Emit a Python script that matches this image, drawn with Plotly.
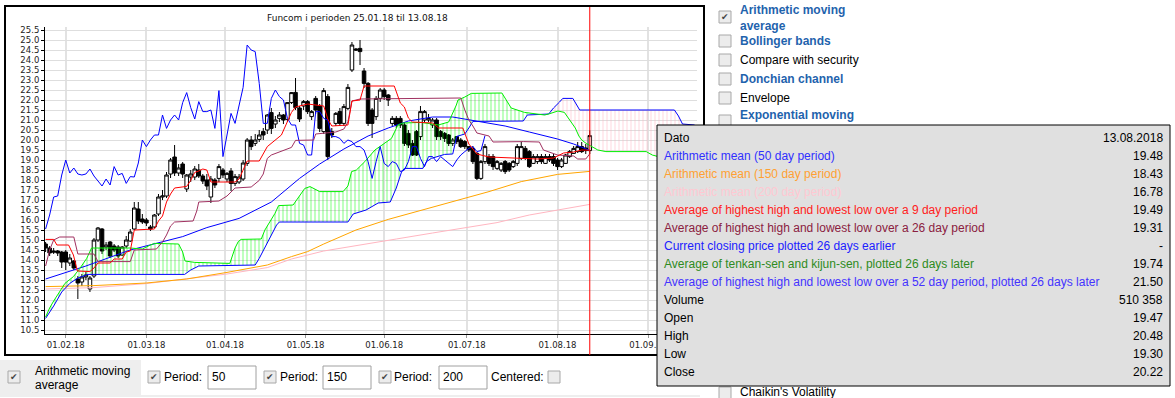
import pandas as pd
import plotly.graph_objects as go

# ---------------- data ----------------
HOLIDAYS = ["2018-03-29", "2018-03-30", "2018-04-02", "2018-05-01",
            "2018-05-10", "2018-05-17", "2018-05-21"]
trade_dates = [d for d in pd.bdate_range("2018-01-25", "2018-08-13")
               if d.strftime("%Y-%m-%d") not in HOLIDAYS]
future_dates = list(pd.bdate_range("2018-08-14", periods=26))
all_dates = trade_dates + future_dates
day = list(range(len(trade_dates)))

open_ = [14.8, 14.6, 14.45, 14.45, 14.4, 14.4, 13.85, 13.95, 13.05, 12.9,
         13.15, 12.55, 13.2, 15.0, 15.55, 14.65, 14.9, 14.7, 14.65, 14.25,
         14.7, 14.95, 15.55, 16.55, 16.05, 16.0, 15.65, 15.65, 16.3, 17.15,
         17.2, 18.3, 19.15, 18.35, 18.8, 17.55, 18.15, 18.15, 18.5, 18.2,
         18.0, 17.15, 18.0, 18.08, 18.5, 18.05, 18.45, 17.83, 17.9, 18.05,
         18.83, 20.0, 19.83, 20.03, 20.42, 20.5, 21.37, 20.8, 21.08, 21.25,
         21.03, 21.87, 22.38, 21.6, 21.7, 21.92, 21.17, 22.08, 21.7, 20.42,
         22.17, 20.42, 20.83, 21.42, 20.83, 21.58, 23.5, 24.55, 24.58, 23.45,
         22.83, 21.5, 21.17, 22.08, 22.5, 22.25, 20.83, 21.08, 21.08, 20.75,
         20.33, 19.83, 20.42, 20.17, 21.0, 21.0, 20.75, 21.0, 20.42, 20.33,
         20.25, 19.83, 20.17, 20.0, 19.92, 19.67, 19.58, 19.33, 18.08, 18.92,
         19.17, 19.17, 18.58, 18.5, 18.92, 18.83, 18.67, 18.83, 19.08, 19.58,
         19.42, 18.83, 18.92, 19.17, 18.83, 19.17, 19.17, 19.0, 18.67, 18.83,
         19.17, 19.33, 19.42, 19.67, 19.6, 19.47]
high = [14.9, 14.7, 14.6, 14.5, 14.45, 14.5, 14.3, 14.0, 13.2, 13.3,
        13.4, 13.2, 15.1, 15.65, 15.6, 14.9, 14.95, 14.8, 14.75, 14.7,
        15.2, 15.55, 16.9, 16.9, 16.3, 16.1, 15.75, 16.3, 17.3, 17.5,
        18.4, 19.1, 19.75, 18.8, 18.9, 18.3, 18.5, 18.7, 18.8, 18.3,
        18.3, 18.2, 18.1, 18.8, 18.6, 18.4, 18.6, 18.3, 18.3, 19.0,
        20.1, 20.2, 20.3, 20.5, 20.6, 21.3, 21.6, 21.2, 21.4, 21.3,
        21.9, 22.4, 23.1, 21.7, 22.0, 22.0, 21.5, 22.2, 21.8, 22.6,
        22.3, 20.6, 21.4, 21.6, 21.8, 22.8, 24.9, 24.6, 25.0, 23.6,
        22.9, 21.6, 22.2, 22.6, 22.6, 22.3, 21.2, 21.2, 21.2, 20.9,
        20.5, 20.0, 20.5, 21.7, 21.5, 21.3, 21.1, 21.1, 20.5, 20.4,
        20.3, 20.1, 20.2, 20.1, 20.0, 19.7, 19.7, 19.4, 19.0, 19.8,
        19.3, 19.3, 19.0, 18.9, 19.0, 18.9, 19.0, 19.8, 19.9, 19.7,
        19.5, 19.3, 19.3, 19.3, 19.3, 19.3, 19.3, 19.1, 19.1, 19.3,
        19.5, 19.7, 19.9, 19.9, 19.8, 20.48]
low = [14.4, 14.2, 14.3, 14.2, 13.6, 13.5, 13.7, 13.5, 12.05, 12.7,
       13.0, 12.4, 13.1, 14.9, 14.3, 14.5, 14.1, 14.4, 14.1, 14.2,
       14.6, 14.9, 15.5, 15.8, 15.8, 15.7, 15.45, 15.6, 16.2, 17.0,
       17.1, 18.1, 18.2, 18.2, 18.1, 17.4, 17.9, 18.0, 18.1, 17.8,
       17.5, 16.85, 17.6, 17.9, 18.1, 17.9, 17.45, 17.7, 17.8, 17.95,
       18.7, 19.5, 19.7, 19.9, 20.0, 20.3, 20.3, 20.6, 20.9, 20.8,
       20.9, 21.8, 21.5, 20.9, 21.5, 21.3, 21.0, 21.3, 20.4, 20.3,
       19.0, 20.1, 20.7, 20.7, 20.7, 21.5, 23.4, 24.45, 23.75, 22.6,
       20.7, 20.1, 21.0, 21.9, 22.0, 21.7, 20.7, 20.6, 20.6, 19.7,
       19.6, 19.2, 19.2, 20.0, 20.9, 20.9, 20.6, 20.0, 20.0, 19.9,
       19.7, 19.7, 19.8, 19.6, 19.55, 19.4, 18.8, 18.0, 18.0, 18.8,
       18.7, 18.5, 18.5, 18.4, 18.3, 18.4, 18.6, 18.7, 19.0, 19.0,
       18.6, 18.8, 18.8, 18.8, 18.8, 18.9, 18.7, 18.5, 18.6, 18.8,
       19.1, 19.3, 19.35, 19.35, 19.3, 19.30]
close = [14.6, 14.35, 14.4, 14.35, 13.9, 13.9, 14.1, 13.6, 12.85, 13.15,
         13.25, 13.1, 15.0, 15.6, 14.45, 14.75, 14.2, 14.5, 14.2, 14.65,
         15.0, 15.4, 16.6, 15.95, 15.9, 15.85, 15.55, 16.25, 17.15, 17.2,
         18.25, 19.0, 18.35, 18.6, 18.3, 18.25, 18.3, 18.55, 18.2, 17.95,
         17.7, 18.05, 17.75, 18.67, 18.25, 18.33, 17.83, 18.17, 18.15, 18.85,
         20.0, 19.67, 20.0, 20.25, 20.25, 21.25, 20.58, 21.0, 21.25, 21.0,
         21.87, 22.37, 21.62, 21.05, 21.92, 21.42, 21.42, 21.5, 20.58, 22.47,
         19.17, 20.25, 21.33, 20.83, 21.67, 22.63, 24.75, 24.5, 24.42, 22.83,
         20.83, 20.83, 22.08, 22.5, 22.17, 22.0, 21.08, 20.75, 20.75, 19.83,
         19.75, 19.25, 19.25, 21.42, 21.42, 21.08, 21.0, 20.17, 20.17, 20.08,
         19.83, 20.0, 19.92, 19.67, 19.67, 19.5, 18.92, 18.08, 18.92, 19.67,
         18.83, 18.67, 18.92, 18.83, 18.42, 18.5, 18.92, 19.67, 19.67, 19.08,
         18.67, 19.17, 19.17, 18.92, 19.17, 19.0, 18.83, 18.67, 19.0, 19.25,
         19.42, 19.58, 19.67, 19.42, 19.47, 20.22]

# indicator lines: (trading day, value)
ma50 = [(0, 13.05), (10, 13.7), (21, 14.5), (29, 14.92), (34, 15.17), (40, 15.62),
        (48, 16.08), (56, 16.9), (60, 17.55), (63, 18.08), (68, 18.8), (74, 19.55),
        (80, 20.2), (85, 20.6), (90, 20.95), (96, 21.15), (101, 21.15), (107, 20.95),
        (114, 20.7), (120, 20.4), (127, 20.05), (131, 19.8), (135, 19.48)]
ma150 = [(0, 12.67), (12, 12.72), (25, 12.85), (35, 13.05), (45, 13.38), (55, 13.75),
         (61, 14.17), (65, 14.42), (69, 14.8), (77, 15.5), (85, 16.03), (88, 16.2),
         (94, 16.53), (104, 17.08), (110, 17.42), (118, 17.92), (127, 18.28), (135, 18.43)]
ma200 = [(0, 12.55), (12, 12.62), (25, 12.82), (35, 13.05), (45, 13.3), (55, 13.62),
         (61, 14.05), (69, 14.45), (79, 14.8), (87, 15.05), (96, 15.35), (104, 15.6),
         (112, 15.87), (120, 16.25), (127, 16.5), (135, 16.78)]
tenkan = [(0, 15.03), (2, 15.03), (2.8, 14.75), (5.7, 14.75), (6.9, 14.25), (7.9, 13.45),
          (11, 13.42), (12, 13.6), (13, 13.85), (16, 13.85), (17, 14.05), (19, 14.05),
          (20, 14.4), (21, 14.45), (22, 15.5), (27, 15.55), (28, 15.95), (29, 16.2),
          (30, 16.9), (31, 17.3), (32, 17.6), (35, 17.68), (36, 17.98), (37, 18.38),
          (38, 18.45), (39, 18.55), (40, 18.5), (41, 17.9), (47, 17.9), (48, 18.05),
          (50, 18.95), (53, 18.95), (55, 19.67), (58.5, 20.25), (61, 21.38), (62, 21.65),
          (65, 21.8), (69, 21.7), (70, 21.05), (71, 20.7), (75, 20.75), (76, 21.95),
          (78, 22.0), (79, 22.7), (86.5, 22.7), (88, 21.85), (89, 21.65), (90, 21.1),
          (91, 20.9), (96, 20.85), (97.5, 20.6), (103.5, 20.6), (105, 19.8), (107, 19.3),
          (110, 19.15), (118, 19.1), (122, 19.05), (126, 19.1), (128.5, 19.35),
          (131, 19.4), (133, 19.5), (135, 19.49)]
kijun = [(0, 13.7), (1, 14.5), (2, 15.0), (3.5, 15.15), (7, 15.15), (8, 14.3), (12, 14.3),
         (13, 13.92), (21, 13.92), (22, 14.5), (27.5, 14.55), (29, 14.9), (30, 15.25),
         (31, 15.7), (32, 15.9), (36.6, 15.95), (37.5, 16.45), (38, 16.9), (43, 16.95),
         (45, 17.2), (47, 17.6), (51, 17.65), (53, 17.98), (54, 18.3), (55, 19.08),
         (56, 19.25), (61, 19.63), (62, 19.98), (66.5, 20.0), (67, 20.3), (72, 20.4),
         (74, 20.55), (75, 20.9), (76, 21.95), (78, 22.05), (103, 22.1), (104, 21.5),
         (105, 21.0), (106, 20.7), (107, 20.35), (110, 20.2), (111, 19.9), (118.5, 19.92),
         (122.5, 19.9), (123.5, 19.5), (127, 19.25), (131, 19.2), (132, 19.05),
         (134, 19.05), (135, 19.31)]
senkou_a = [(0, 11.15), (1, 11.6), (2, 11.95), (3.6, 12.42), (4.8, 12.83), (6.9, 13.17),
            (8.5, 13.58), (10.2, 14.08), (11.4, 14.6), (21, 14.6), (24, 14.55), (26, 14.75),
            (27, 14.83), (33, 14.8), (34, 14.4), (34.6, 13.95), (37, 13.88), (45.7, 13.83),
            (47, 14.6), (47.8, 14.92), (48.5, 15.03), (53.5, 15.05), (54.4, 15.5),
            (56.9, 16.33), (57.8, 16.72), (61.4, 16.75), (64.3, 17.58), (65.6, 17.67),
            (68, 17.42), (73.8, 17.42), (75, 17.7), (75.9, 18.42), (77.1, 18.5),
            (79.2, 18.92), (81.7, 19.5), (85.8, 20.08), (87.4, 20.75), (88.7, 20.85),
            (93.2, 20.88), (97.4, 20.75), (100, 20.9), (101.9, 21.75), (102.3, 22.0),
            (104, 22.15), (105.6, 22.33), (113.2, 22.35), (115.5, 21.6), (118.8, 21.38),
            (123.8, 21.25), (124.8, 21.3), (127.1, 21.45), (128.7, 21.38), (130, 21.0),
            (131.4, 20.6), (132.3, 20.2), (133, 20.0), (134.1, 19.83), (135, 19.74),
            (137, 19.5), (139, 19.42), (149, 19.42), (150.5, 19.25), (152, 19.17), (161, 19.2)]
senkou_b = [(0, 11.08), (2, 11.7), (4, 12.4), (6, 12.83), (8, 13.1), (10.5, 13.28),
            (34.5, 13.28), (36, 13.5), (38, 13.7), (52, 13.75), (53, 14.08), (55.6, 15.08),
            (57.3, 15.75), (58, 15.9), (75, 15.9), (76.3, 16.3), (79.5, 16.5), (82.5, 16.85),
            (85.5, 16.9), (87, 17.6), (88.3, 18.4), (89, 18.58), (93.6, 18.58), (94.5, 18.92),
            (95.7, 19.08), (99, 19.28), (101, 19.3), (102, 20.18), (104, 20.3), (105, 20.6),
            (106, 20.93), (118.5, 20.95), (119.5, 21.25), (124.8, 21.3), (126, 21.6),
            (127.5, 21.9), (128.3, 22.08), (130.8, 22.08), (132.5, 21.5), (156, 21.5),
            (157, 21.2), (158, 20.8), (161, 20.75)]
CLOUD_SWITCH = 124.8
SHIFT = 26

tooltip_rows = [
    ("Dato", "13.08.2018", "#000000"),
    ("Arithmetic mean (50 day period)", "19.48", "#3030ff"),
    ("Arithmetic mean (150 day period)", "18.43", "#ffa033"),
    ("Arithmetic mean (200 day period)", "16.78", "#ffc8d2"),
    ("Average of highest high and lowest low over a 9 day period", "19.49", "#ff2020"),
    ("Average of highest high and lowest low over a 26 day period", "19.31", "#8b2040"),
    ("Current closing price plotted 26 days earlier", "-", "#2020ff"),
    ("Average of tenkan-sen and kijun-sen, plotted 26 days later", "19.74", "#2e8b22"),
    ("Average of highest high and lowest low over a 52 day period, plotted 26 days later", "21.50", "#4433ff"),
    ("Volume", "510 358", "#000000"),
    ("Open", "19.47", "#000000"),
    ("High", "20.48", "#000000"),
    ("Low", "19.30", "#000000"),
    ("Close", "20.22", "#000000"),
]
panel_items = [("Arithmetic moving<br>average", True, True),
               ("Bollinger bands", True, False),
               ("Compare with security", False, False),
               ("Donchian channel", True, False),
               ("Envelope", False, False),
               ("Exponential moving", True, False)]
periods = ["50", "150", "200"]

# ---------------- layout helpers ----------------
W, H = 1175, 398
PL, PR, PT, PB = 45, 697, 27, 334
CHART_FONT = "DejaVu Sans"
UI_FONT = "Liberation Sans, Arial, sans-serif"


def px(x):
    return (x - PL) / (PR - PL)


def py(y):
    return (PB - y) / (PB - PT)


def xs(pts):
    return [p[0] for p in pts]


def ys(pts):
    return [p[1] for p in pts]


fig = go.Figure()

# cloud (kumo) hatch fills
a_lo = [p for p in senkou_a if p[0] <= CLOUD_SWITCH]
b_lo = [p for p in senkou_b if p[0] <= CLOUD_SWITCH]
a_hi = [p for p in senkou_a if p[0] >= CLOUD_SWITCH]
b_hi = [p for p in senkou_b if p[0] >= CLOUD_SWITCH]
green_poly = a_lo + b_lo[::-1]
pink_poly = b_hi + a_hi[::-1]
for poly, col in [(green_poly, "#00ff00"), (pink_poly, "#ffb0c0")]:
    fig.add_trace(go.Scatter(
        x=xs(poly), y=ys(poly), mode="lines", fill="toself",
        fillcolor="rgba(0,0,0,0)", line=dict(width=0),
        fillpattern=dict(shape="|", size=4, solidity=0.25, fgcolor=col,
                         bgcolor="rgba(0,0,0,0)"),
        hoverinfo="skip", showlegend=False))


def add_line(pts, color):
    fig.add_trace(go.Scatter(x=xs(pts), y=ys(pts), mode="lines",
                             line=dict(color=color, width=1),
                             hoverinfo="skip", showlegend=False))


add_line(ma200, "#ffb6c1")
add_line(ma150, "#ffa500")
add_line(ma50, "#0000ff")
add_line(senkou_b, "#0000ff")
add_line(senkou_a, "#00ee00")
# chikou span: closes plotted 26 trading days earlier
fig.add_trace(go.Scatter(x=day[:-SHIFT], y=close[SHIFT:], mode="lines",
                         line=dict(color="#0000ff", width=1),
                         hoverinfo="skip", showlegend=False))
add_line(kijun, "#a03060")
add_line(tenkan, "#ff0000")

fig.add_trace(go.Candlestick(
    x=day, open=open_, high=high, low=low, close=close,
    increasing=dict(fillcolor="#ffffff", line=dict(color="#000000", width=1)),
    decreasing=dict(fillcolor="#000000", line=dict(color="#000000", width=1)),
    whiskerwidth=0, hoverinfo="skip", showlegend=False))

# month ticks
tick_pos, tick_txt = [], []
for m in pd.date_range("2018-02-01", "2018-09-01", freq="MS"):
    k = next(i for i, d in enumerate(all_dates) if d >= m)
    tick_pos.append(k if all_dates[k] == m else k - 0.5)
    tick_txt.append(m.strftime("%d.%m.%y"))

shapes = []
ann = []


def rect(x0, y0, x1, y1, fill, line="#000000", lw=1):
    shapes.append(dict(type="rect", xref="paper", yref="paper",
                       x0=px(x0), x1=px(x1), y0=py(y1), y1=py(y0),
                       fillcolor=fill, line=dict(color=line, width=lw),
                       layer="above"))


def hline(x0, x1, y, color, lw=1):
    shapes.append(dict(type="line", xref="paper", yref="paper",
                       x0=px(x0), x1=px(x1), y0=py(y), y1=py(y),
                       line=dict(color=color, width=lw), layer="above"))


def text(x, y, s, size=12, color="#000000", family=UI_FONT, anchor="left"):
    ann.append(dict(x=px(x), y=py(y), xref="paper", yref="paper", text=s,
                    showarrow=False, xanchor=anchor, yanchor="middle",
                    align=anchor if anchor != "center" else "center",
                    font=dict(size=size, color=color, family=family), borderpad=0))


def checkbox(cx, cy, checked):
    rect(cx - 6, cy - 6, cx + 6, cy + 6, "#ececec", "#a8a8a8", 1)
    if checked:
        text(cx, cy, "✔", size=9, color="#444444", family=CHART_FONT, anchor="center")


# chart frame
shapes.append(dict(type="rect", xref="paper", yref="paper",
                   x0=px(5), x1=px(704), y0=py(355), y1=py(6),
                   line=dict(color="#000000", width=2), layer="above"))
# red cursor line at last trading day
shapes.append(dict(type="line", xref="x", yref="paper",
                   x0=day[-1], x1=day[-1], y0=py(355), y1=py(7),
                   line=dict(color="#ff0000", width=1), layer="above"))

# title
text(357, 18, "Funcom i perioden 25.01.18 til 13.08.18", size=9,
     color="#111111", family=CHART_FONT, anchor="center")

# right panel
panel_y = [17, 41, 60, 79, 98, 121]
text_y = [18, 41, 60, 79, 98, 115]
for (label, blue, checked), cy, ty in zip(panel_items, panel_y, text_y):
    checkbox(725, cy, checked)
    if blue:
        text(739, ty, "<b>" + label + "</b>", size=12, color="#1f63ad")
    else:
        text(739, ty, label, size=12, color="#000000")
checkbox(725, 393, False)
text(739, 392, "Chaikin's Volatility", size=12)

# tooltip box
rect(657, 125, 1170, 386, "#e0e0e0", "#000000", 1)
for k, (lab, val, col) in enumerate(tooltip_rows):
    yy = 137.5 + 18 * k
    text(663, yy, lab, size=12, color=col)
    text(1164, yy, val, size=12, color="#000000", anchor="right")

# bottom controls
rect(0, 360, 141, 395, "#eeeeee", "#eeeeee", 0)
hline(0, 700, 396, "#dddddd", 1)
checkbox(14, 377, True)
text(34, 371, "Arithmetic moving", size=12)
text(34, 385, "average", size=12)
box_x = [(149, 167, 208), (265, 283, 323), (380, 397, 439)]
for (cbx, tx, bx), val in zip(box_x, periods):
    checkbox(cbx + 5, 377, True)
    text(tx - 4, 377, "Period:", size=12)
    rect(bx, 366, bx + 48, 389, "#ffffff", "#a0a0a0", 1)
    text(bx + 3, 377, val, size=12)
text(490, 377, "Centered:", size=12)
checkbox(554, 377, False)

fig.update_layout(
    width=W, height=H, autosize=False,
    margin=dict(l=PL, r=W - PR, t=PT, b=H - PB, pad=0),
    paper_bgcolor="#ffffff", plot_bgcolor="#ffffff",
    showlegend=False, shapes=shapes, annotations=ann,
    boxgap=0.12, boxgroupgap=0,
    xaxis=dict(range=[-0.15, 161.6], tickmode="array", tickvals=tick_pos,
               ticktext=tick_txt, showgrid=True, gridcolor="#e2e2e2", gridwidth=2,
               showline=True, linecolor="#000000", linewidth=1,
               ticks="outside", ticklen=3, tickcolor="#999999",
               tickfont=dict(family=CHART_FONT, size=8.5, color="#222222"),
               rangeslider=dict(visible=False), zeroline=False, fixedrange=True),
    yaxis=dict(range=[10.3, 25.65], tickmode="linear", tick0=10.5, dtick=0.5,
               tickformat=".1f", showgrid=True, gridcolor="#dedede", gridwidth=1,
               showline=True, linecolor="#000000", linewidth=1,
               ticks="outside", ticklen=3, tickcolor="#000000",
               tickfont=dict(family=CHART_FONT, size=8.5, color="#222222"),
               zeroline=False, fixedrange=True),
)

fig.write_html("out.html", config={"displayModeBar": False},
               post_script="document.body.style.margin='0';document.body.style.overflow='hidden';")
